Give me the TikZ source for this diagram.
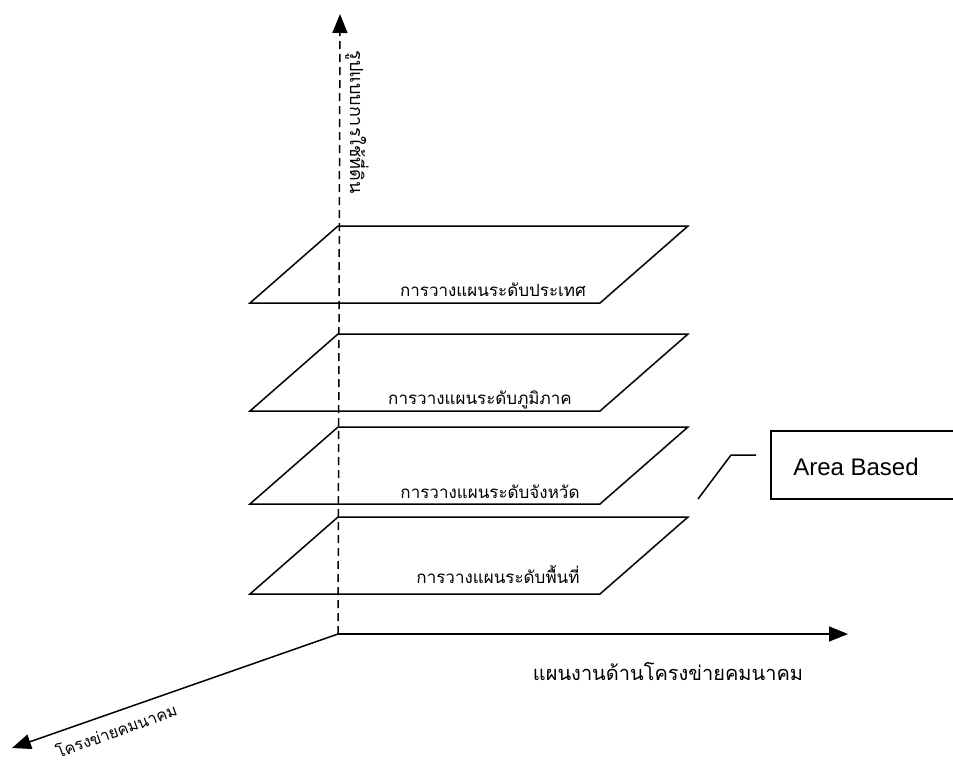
\documentclass[tikz,border=0pt]{standalone}
\usepackage{fontspec}
\setmainfont{Liberation Sans}
\newfontfamily\thaifont[Script=Thai]{Loma}
\usetikzlibrary{arrows.meta}
\begin{document}
\begin{tikzpicture}[x=1pt,y=-1pt,
  axisline/.style={line width=1.5pt, -{Triangle[length=19pt,width=15pt]}},
  plane/.style={line width=1.5pt, line join=miter},
  planetext/.style={font=\thaifont\fontsize{17}{20}\selectfont, inner sep=0pt},
  axistext/.style={font=\thaifont\fontsize{20}{24}\selectfont, inner sep=0pt},
  boxline/.style={line width=1.5pt},
  ]
\useasboundingbox (0,0) rectangle (953,766);
% axes
\coordinate (O) at (338,634);
\coordinate (Ytip) at (340,14);
\coordinate (Xtip) at (848,634);
\coordinate (Ztip) at (12,748);
\draw[axisline, dash pattern=on 8pt off 5pt] (O) -- (Ytip);
\draw[axisline] (O) -- (Xtip);
\draw[axisline] (O) -- (Ztip);
\node[axistext, font=\thaifont\fontsize{18}{21}\selectfont, rotate=-90] (ylab) at (357,122) {รูปแบบการใช้ที่ดิน};
\node[axistext] (xlab) at (668,672) {แผนงานด้านโครงข่ายคมนาคม};
\node[axistext, font=\thaifont\fontsize{16}{19}\selectfont, rotate=20] (zlab) at (116,730) {โครงข่ายคมนาคม};
% planes
\foreach \t/\n in {226/1,334/2,427/3,517/4}{
  \coordinate (p\n a) at (338,\t);
  \coordinate (p\n b) at (688,\t);
  \coordinate (p\n c) at (600,\t+77);
  \coordinate (p\n d) at (250,\t+77);
  \draw[plane] (p\n a) -- (p\n b) -- (p\n c) -- (p\n d) -- cycle;
}
\node[planetext] (t1) at (493,290) {การวางแผนระดับประเทศ};
\node[planetext] (t2) at (480,400) {การวางแผนระดับภูมิภาค};
\node[planetext] (t3) at (490,492) {การวางแผนระดับจังหวัด};
\node[planetext] (t4) at (498,575) {การวางแผนระดับพื้นที่};
% area based box
\node[font=\fontsize{24}{28}\selectfont, inner sep=0pt] (ab) at (856,467) {Area Based};
\coordinate (bx1) at (962,431);
\coordinate (bx2) at (771,499);
\coordinate (bx3) at (962,499);
\draw[boxline] (bx1) -| (bx2) -- (bx3);
\coordinate (l1) at (698,499);
\coordinate (l2) at (731,455);
\coordinate (l3) at (756,455);
\draw[boxline] (l1) -- (l2) -- (l3);
\end{tikzpicture}
\end{document}
